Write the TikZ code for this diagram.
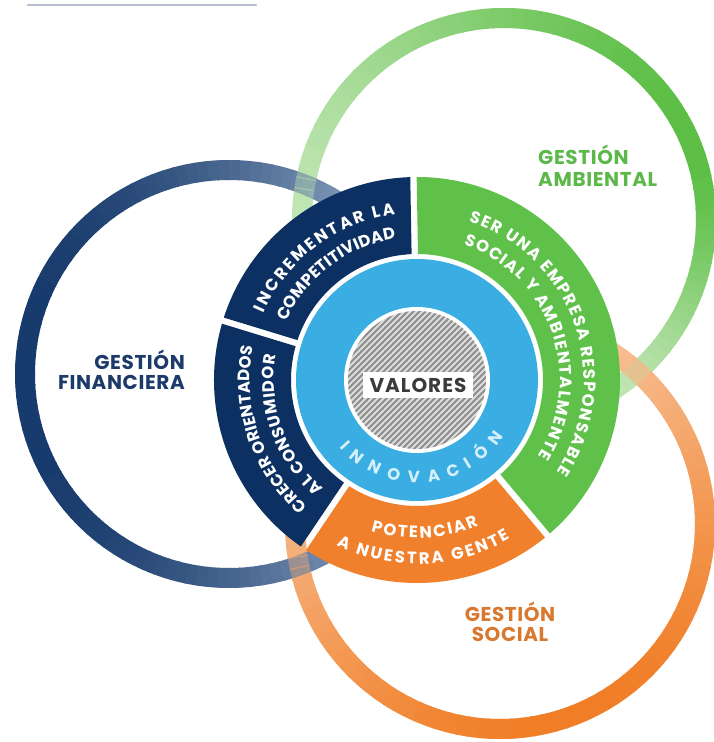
\documentclass[tikz,border=0pt]{standalone}
\usepackage{fontspec}
\setmainfont{Poppins}
\newfontfamily\popLS{Poppins}[LetterSpace=3]
\newfontfamily\popVal{Poppins}[LetterSpace=5]
\usetikzlibrary{calc,decorations.text}
\definecolor{navyD}{HTML}{173A6C}
\definecolor{navyL}{HTML}{A9BDD5}
\definecolor{greenS}{HTML}{5CBE45}
\definecolor{greenP}{HTML}{C4E7B8}
\definecolor{orangeS}{HTML}{F07D25}
\definecolor{orangeP}{HTML}{F9D2B4}
\definecolor{segnavy}{HTML}{0C3062}
\definecolor{seggreen}{HTML}{5FC14A}
\definecolor{segorange}{HTML}{F0802B}
\definecolor{innerblue}{HTML}{3AADE3}
\definecolor{hatchbg}{HTML}{DCDCDC}
\definecolor{hatchln}{HTML}{8E8E8E}
\definecolor{valtext}{HTML}{3B3B3B}
\definecolor{innotext}{HTML}{D6F0FB}
\definecolor{finText}{HTML}{1C3A6A}
\definecolor{ambText}{HTML}{5DB84A}
\definecolor{socText}{HTML}{D9782F}
\definecolor{topline}{HTML}{B7BCCF}
\newcommand\titlefnt{\popLS\bfseries\fontsize{20}{22}\selectfont}
\newcommand\segfnt{\bfseries\fontsize{16.5}{17}\selectfont}
\newcommand\valfnt{\popVal\bfseries\fontsize{20}{21}\selectfont}
\newcommand\ambring[1]{%
  \foreach \a in {0,3,...,357}{%
    \pgfmathsetmacro\dd{mod(\a+520,360)-180}%
    \pgfmathtruncatemacro\pp{100*(\dd>=0 ? (1+cos(\dd))/2 : (1+cos(min(180,2*abs(\dd))))/2)}%
    \draw[ringline, draw=greenS!\pp!greenP, opacity=#1] ($(AmbC)+(\a:202pt)$) arc[start angle=\a, end angle=\a+3.4, radius=202pt];
  }}
\newcommand\finring[1]{%
  \foreach \a in {0,3,...,357}{%
    \pgfmathtruncatemacro\pp{100*(1-((1.001+cos(\a))/2.002)^1.6)}%
    \draw[ringline, draw=navyD!\pp!navyL, opacity=#1] ($(FinC)+(\a:204pt)$) arc[start angle=\a, end angle=\a+3.4, radius=204pt];
  }}
\newcommand\socring[1]{%
  \foreach \a in {0,3,...,357}{%
    \pgfmathtruncatemacro\pp{100*((1.001+cos(\a+70))/2.002)^0.9}%
    \draw[ringline, draw=orangeS!\pp!orangeP, opacity=#1] ($(SocC)+(\a:205pt)$) arc[start angle=\a, end angle=\a+3.4, radius=205pt];
  }}
\newcommand\wheelsector[3]{%
  \fill[#1] ($(C)+(#2:126pt)$) arc[start angle=#2, end angle=#3, radius=126pt]
    -- ($(C)+(#3:203pt)$) arc[start angle=#3, end angle=#2, radius=203pt] -- cycle;}
\tikzset{
  ringline/.style={line width=20pt, line cap=butt},
  curvetxt/.style 2 args={decorate, decoration={text along path, text align={fit to path}, text color=#1, text={#2}}},
  titletxt/.style={inner sep=0pt, font=\titlefnt},
  valbox/.style={fill=white, inner sep=0pt, minimum width=110pt, minimum height=26pt, text=valtext, font=\valfnt}
}
\begin{document}
\begin{tikzpicture}[x=1pt,y=1pt]
\useasboundingbox (0,0) rectangle (713,742);
\fill[white] (0,0) rectangle (713,742);
\coordinate (C) at (417,362);
\coordinate (FinC) at (229,368);
\coordinate (AmbC) at (504,522);
\coordinate (SocC) at (500,218);
\coordinate (tlA) at (28,737);
\coordinate (tlB) at (256,737);
\draw[topline, line width=2.6pt, line cap=round] (tlA) -- (tlB);
% rings
\ambring{1}
\socring{1}
\finring{1}
\ambring{0.4}
\socring{0.4}
% wheel segments
\fill[white] (C) circle (126pt);
\begin{scope}[even odd rule]
\clip (0,0) rectangle (713,742)
  foreach \t in {91,163,236,310}{ ($(C)+(\t:110pt)+(\t+90:3.2pt)$) -- ($(C)+(\t:215pt)+(\t+90:3.2pt)$) -- ($(C)+(\t:215pt)+(\t-90:3.2pt)$) -- ($(C)+(\t:110pt)+(\t-90:3.2pt)$) -- cycle };
\wheelsector{segnavy}{91}{163}
\wheelsector{segnavy}{163}{236}
\wheelsector{segorange}{236}{310}
\wheelsector{seggreen}{-50}{91}
\end{scope}
% inner disk
\fill[innerblue] (C) circle (121pt);
\fill[white] (C) circle (73pt);
\begin{scope}
\clip (C) circle (69pt);
\fill[hatchbg] (C) circle (69pt);
\foreach \k in {-18,...,18}{
  \draw[hatchln, line width=1.9pt] ($(C)+(\k*6-90,-90)$) -- ++(180,180);
}
\end{scope}
\node[valbox] (val) at (418,357) {VALORES};
% curved texts
\path[curvetxt={innotext}{|\segfnt|INNOVACIÓN}] ($(C)+(-139:103pt)$) arc[start angle=-139, end angle=-33, radius=103pt];
\path[curvetxt={white}{|\segfnt|INCREMENTAR LA}] ($(C)+(156.5:167pt)$) arc[start angle=156.5, end angle=97.5, radius=167pt];
\path[curvetxt={white}{|\segfnt|COMPETITIVIDAD}] ($(C)+(156:143pt)$) arc[start angle=156, end angle=98.5, radius=143pt];
\path[curvetxt={white}{|\segfnt|CRECER ORIENTADOS}] ($(C)+(229:167pt)$) arc[start angle=229, end angle=168.5, radius=167pt];
\path[curvetxt={white}{|\segfnt|AL CONSUMIDOR}] ($(C)+(229:143pt)$) arc[start angle=229, end angle=170, radius=143pt];
\path[curvetxt={white}{|\segfnt|SER UNA EMPRESA RESPONSABLE}] ($(C)+(72:167pt)$) arc[start angle=72, end angle=-33.5, radius=167pt];
\path[curvetxt={white}{|\segfnt|SOCIAL Y AMBIENTALMENTE}] ($(C)+(71:143pt)$) arc[start angle=71, end angle=-32, radius=143pt];
\path[curvetxt={white}{|\segfnt|POTENCIAR}] ($(C)+(253:158pt)$) arc[start angle=253, end angle=293, radius=158pt];
\path[curvetxt={white}{|\segfnt|A NUESTRA GENTE}] ($(C)+(244:184pt)$) arc[start angle=244, end angle=300.5, radius=184pt];
% titles
\node[titletxt, text=finText, anchor=base east] (finA) at (185,372) {GESTIÓN};
\node[titletxt, text=finText, anchor=base east] (finB) at (185,352) {FINANCIERA};
\node[titletxt, text=ambText, anchor=base west] (ambA) at (538,577) {GESTIÓN};
\node[titletxt, text=ambText, anchor=base west] (ambB) at (538,555) {AMBIENTAL};
\node[titletxt, text=socText, anchor=base] (socA) at (510,120) {GESTIÓN};
\node[titletxt, text=socText, anchor=base] (socB) at (510,100) {SOCIAL};
\end{tikzpicture}
\end{document}
